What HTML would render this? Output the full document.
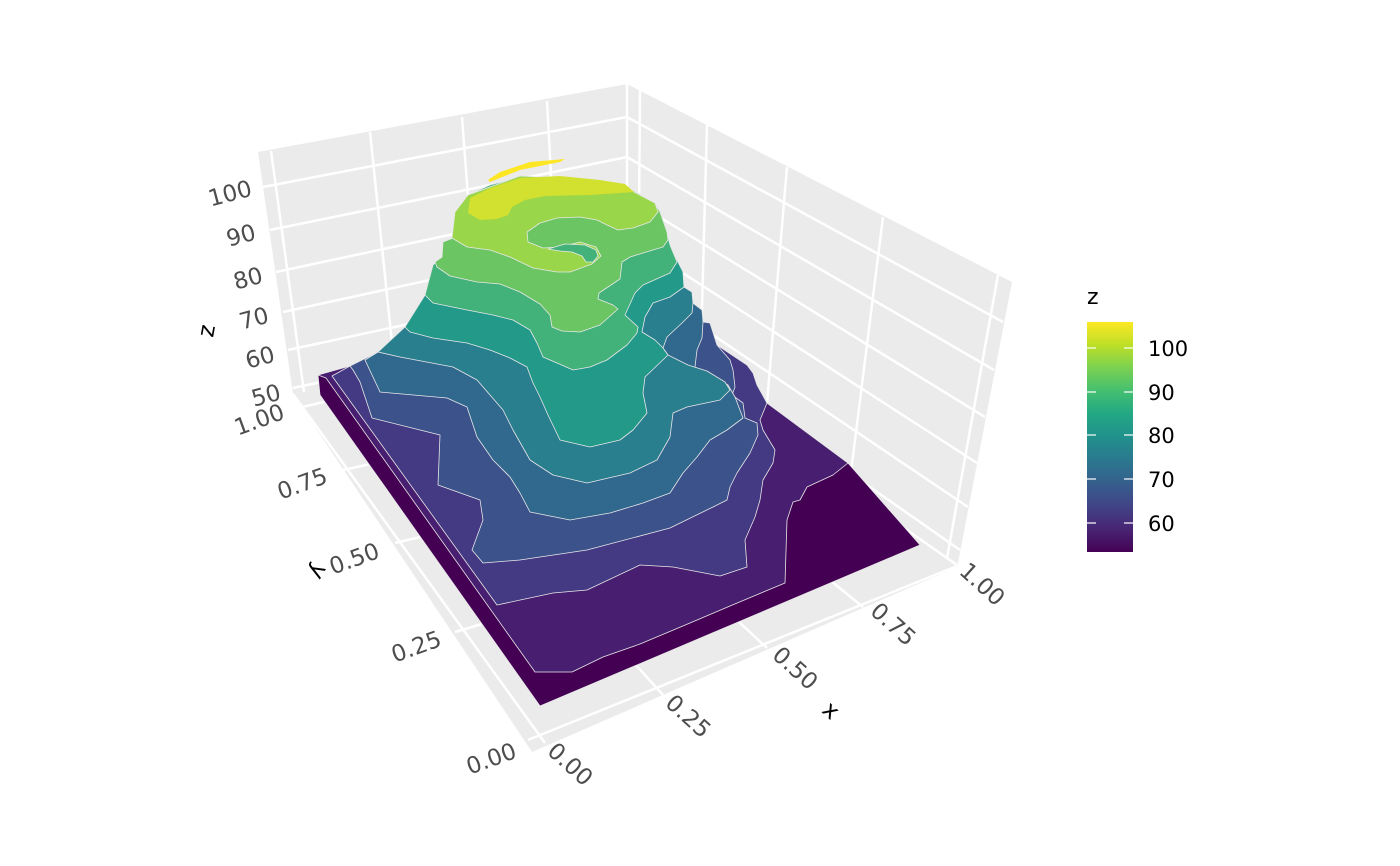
<!DOCTYPE html>
<html><head><meta charset="utf-8"><style>
html,body{margin:0;padding:0;background:#fff;}
svg{display:block;}
text{font-family:"DejaVu Sans","Liberation Sans",sans-serif;}
</style></head><body>
<svg width="1400" height="866" viewBox="0 0 1400 866" xmlns="http://www.w3.org/2000/svg">
<defs>
<linearGradient id="vir" x1="0" y1="1" x2="0" y2="0">
<stop offset="0" stop-color="#440154"/><stop offset="0.1" stop-color="#482475"/>
<stop offset="0.2" stop-color="#414487"/><stop offset="0.3" stop-color="#355f8d"/>
<stop offset="0.4" stop-color="#2a788e"/><stop offset="0.5" stop-color="#21918c"/>
<stop offset="0.6" stop-color="#22a884"/><stop offset="0.7" stop-color="#44bf70"/>
<stop offset="0.8" stop-color="#7ad151"/><stop offset="0.9" stop-color="#bddf26"/>
<stop offset="1" stop-color="#fde725"/>
</linearGradient>
</defs>
<polygon points="258,152 627,84 630,334 293,394" fill="#ebebeb"/>
<polygon points="627,84 1012,282 957,568 627,334" fill="#ebebeb"/>
<polygon points="293,394 532,752 957,567 627,334" fill="#ebebeb"/>
<g stroke="#fff" stroke-width="2.5" fill="none">
<line x1="263" y1="187" x2="627" y2="117"/><line x1="270" y1="230" x2="627" y2="157"/>
<line x1="276" y1="272" x2="627" y2="197"/><line x1="283" y1="312" x2="627" y2="237"/>
<line x1="288" y1="350" x2="627" y2="277"/><line x1="293" y1="388" x2="627" y2="317"/>
<line x1="271" y1="151" x2="304" y2="392"/>
<line x1="370" y1="132" x2="395" y2="372"/><line x1="462" y1="117" x2="480" y2="357"/>
<line x1="547" y1="101" x2="560" y2="343"/><line x1="627" y1="84" x2="627" y2="334"/>
<line x1="627" y1="117" x2="1003" y2="322"/><line x1="627" y1="157" x2="994" y2="370"/>
<line x1="627" y1="197" x2="985" y2="417"/><line x1="627" y1="237" x2="977" y2="463"/>
<line x1="627" y1="277" x2="968" y2="507"/><line x1="627" y1="317" x2="960" y2="550"/>
<line x1="640" y1="90" x2="638" y2="340"/><line x1="707" y1="125" x2="700" y2="380"/>
<line x1="787" y1="167" x2="767" y2="403"/><line x1="883" y1="217" x2="850" y2="480"/>
<line x1="998" y1="275" x2="947" y2="558"/>
<line x1="343" y1="470" x2="709" y2="390"/><line x1="395" y1="543" x2="792" y2="449"/>
<line x1="455" y1="632" x2="874" y2="508"/><line x1="528" y1="740" x2="957" y2="566"/>
<line x1="302" y1="407" x2="627" y2="334"/>
<line x1="545" y1="743" x2="293" y2="394"/>
<line x1="663" y1="695" x2="376" y2="378"/><line x1="767" y1="648" x2="460" y2="362"/>
<line x1="863" y1="607" x2="543" y2="347"/><line x1="957" y1="565" x2="627" y2="334"/>
</g>
<g stroke="#e8e8e8" stroke-width="0.8" stroke-linejoin="round">
<polygon fill="#440154" points="318,375 350,366 378,352 405,327 425,295 433,265 442,257 443,242 453,238 455,215 468,195 490,185 520,177 600,180 634,191 655,203 660,212 667,232 670,245 677,260 683,272 684,287 692,292 693,303 702,310 703,322 710,323 717,345 747,365 753,373 757,385 767,403 848,463 920,545 540,706 320,395"/>
<polygon fill="#481f70" points="318,375 350,366 378,352 405,327 425,295 433,265 442,257 443,242 453,238 455,215 468,195 490,185 520,177 600,180 634,191 655,203 660,212 667,232 670,245 677,260 683,272 684,287 692,292 693,303 702,310 703,322 710,323 717,345 747,365 753,373 757,385 767,403 848,463 833,475 807,487 800,500 793,502 787,520 785,583 730,606 690,623 640,644 603,657 572,672 535,672 326,378"/>
<polygon fill="#443983" points="332,376 350,366 378,352 405,327 425,295 433,265 442,257 443,242 453,238 455,215 468,195 490,185 520,177 600,180 634,191 655,203 660,212 667,232 670,245 677,260 683,272 684,287 692,292 693,303 702,310 703,322 710,323 717,345 747,365 753,373 757,385 767,403 760,420 763,430 775,450 773,463 763,480 760,500 755,517 745,540 747,567 720,576 673,567 640,565 587,590 553,593 497,605"/>
<polygon fill="#3b528b" points="350,366 378,352 405,327 425,295 433,265 442,257 443,242 453,238 455,215 468,195 490,185 520,177 600,180 634,191 655,203 660,212 667,232 670,245 677,260 683,272 684,287 692,292 693,303 702,310 703,322 710,323 717,345 730,360 733,370 735,387 732,395 743,403 745,418 757,423 758,435 750,453 737,473 730,487 727,500 713,507 670,528 587,550 520,560 483,563 472,550 483,520 480,500 438,485 440,435 372,418 360,382 353,370"/>
<polygon fill="#31688e" points="365,360 378,352 405,327 425,295 433,265 442,257 443,242 453,238 455,215 468,195 490,185 520,177 600,180 634,191 655,203 660,212 667,232 670,245 677,260 683,272 684,287 692,292 693,303 702,310 703,322 702,338 697,350 695,367 712,376 728,385 735,397 743,418 727,430 710,440 697,457 683,473 670,493 643,503 610,513 570,520 530,512 520,493 510,477 493,460 477,437 467,407 447,398 380,392"/>
<polygon fill="#2a7f8e" points="378,352 405,327 425,295 433,265 442,257 443,242 453,238 455,215 468,195 490,185 520,177 600,180 634,191 655,203 660,212 667,232 670,245 677,260 683,272 684,287 692,292 693,303 692,313 682,323 667,337 663,348 668,355 688,365 707,371 725,382 730,390 720,400 687,407 673,413 670,437 657,460 630,473 587,483 553,475 530,460 513,430 503,410 477,380 453,367 400,357"/>
<polygon fill="#23998a" points="405,327 425,295 433,265 442,257 443,242 453,238 455,215 468,195 490,185 520,177 600,180 634,191 655,203 660,212 667,232 670,245 677,260 683,272 684,287 670,297 653,303 645,317 642,332 655,340 663,348 668,355 645,377 643,393 647,413 633,430 620,440 590,447 560,440 548,415 540,397 533,383 527,367 510,358 490,350 467,343 433,338 410,332"/>
<polygon fill="#42b27a" points="425,295 433,265 442,257 443,242 453,238 455,215 468,195 490,185 520,177 600,180 634,191 655,203 660,212 667,232 670,245 677,262 670,273 643,285 635,293 625,315 638,327 637,333 627,345 607,360 590,367 573,370 557,363 543,357 537,343 530,330 513,320 493,315 467,310 433,303"/>
<polygon fill="#6bc563" points="437,267 450,276 477,282 500,284 520,292 540,304 550,315 552,327 562,331 580,332 600,325 618,309 613,305 598,299 599,293 620,279 622,262 630,257 643,253 663,247 668,240 667,232 660,212 655,203 634,191 600,180 520,177 468,195 455,215 453,238 443,242 442,257 435,262"/>
<polygon fill="#9ad64a" points="452,238 455,212 468,195 520,176 600,180 634,192 655,203 658,212 650,222 633,228 618,230 607,225 597,220 580,217 557,218 540,223 527,232 528,242 543,248 560,247 580,242 596,247 601,256 592,264 570,272 557,272 533,268 510,257 490,250 467,247"/>
<polygon fill="#42b27a" points="548,249 565,244 585,245 596,250 598,256 593,262 586,262 582,256 572,252 560,251"/>
<polygon fill="#d2e030" stroke="none" points="468,213 470,198 490,188 520,178 560,176 600,180 625,184 634,192 620,193 590,195 545,196 525,200 512,207 508,215 497,219 480,220"/>
<polygon fill="#fde725" stroke="none" points="488,180 500,172 530,162 565,159 560,162 520,170 490,182"/>
</g>
<g fill="#4d4d4d" font-size="23">
<text transform="translate(232,201) rotate(-15)" text-anchor="middle">100</text>
<text transform="translate(243,243) rotate(-15)" text-anchor="middle">90</text>
<text transform="translate(250,286) rotate(-15)" text-anchor="middle">80</text>
<text transform="translate(256,326) rotate(-15)" text-anchor="middle">70</text>
<text transform="translate(262,365) rotate(-15)" text-anchor="middle">60</text>
<text transform="translate(268,403) rotate(-15)" text-anchor="middle">50</text>
<text transform="translate(262,427) rotate(-20)" text-anchor="middle">1.00</text>
<text transform="translate(305,491) rotate(-20)" text-anchor="middle">0.75</text>
<text transform="translate(357,566) rotate(-20)" text-anchor="middle">0.50</text>
<text transform="translate(419,654) rotate(-20)" text-anchor="middle">0.25</text>
<text transform="translate(494,766) rotate(-20)" text-anchor="middle">0.00</text>
<text transform="translate(565,770) rotate(42)" text-anchor="middle">0.00</text>
<text transform="translate(683,722) rotate(42)" text-anchor="middle">0.25</text>
<text transform="translate(790,674) rotate(42)" text-anchor="middle">0.50</text>
<text transform="translate(888,630) rotate(42)" text-anchor="middle">0.75</text>
<text transform="translate(977,590) rotate(42)" text-anchor="middle">1.00</text>
</g>
<g fill="#000" font-size="23">
<text transform="translate(214,332) rotate(-80)" text-anchor="middle">z</text>
<text transform="translate(312,568) rotate(120)" text-anchor="middle">y</text>
<text transform="translate(826,716) rotate(42)" text-anchor="middle">x</text>
</g>
<text x="1087" y="304" font-size="22" fill="#000">z</text>
<rect x="1087" y="322" width="46" height="230" fill="url(#vir)"/>
<g stroke="#fff" stroke-width="1.5" opacity="0.8">
<line x1="1087" y1="348" x2="1096" y2="348"/><line x1="1124" y1="348" x2="1133" y2="348"/>
<line x1="1087" y1="392" x2="1096" y2="392"/><line x1="1124" y1="392" x2="1133" y2="392"/>
<line x1="1087" y1="435" x2="1096" y2="435"/><line x1="1124" y1="435" x2="1133" y2="435"/>
<line x1="1087" y1="479" x2="1096" y2="479"/><line x1="1124" y1="479" x2="1133" y2="479"/>
<line x1="1087" y1="523" x2="1096" y2="523"/><line x1="1124" y1="523" x2="1133" y2="523"/>
</g>
<g fill="#000" font-size="21">
<text x="1148" y="356">100</text><text x="1148" y="400">90</text>
<text x="1148" y="443">80</text><text x="1148" y="487">70</text>
<text x="1148" y="531">60</text>
</g>
</svg>
</body></html>
